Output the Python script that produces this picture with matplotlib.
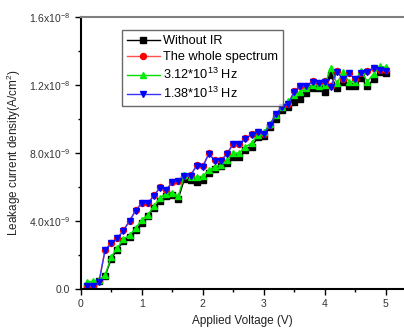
import numpy as np
import matplotlib
matplotlib.use("Agg")
import matplotlib.pyplot as plt
from matplotlib.ticker import FixedLocator, FixedFormatter, MultipleLocator

plt.rcParams["font.family"] = ["Liberation Sans", "DejaVu Sans"]
plt.rcParams["mathtext.default"] = "regular"

voltage = np.round(np.arange(1, 51) * 0.1, 1)

# leakage current density, in units of 1e-9 A/cm^2
without_ir = [0.17, 0.17, 0.45, 0.74, 1.75, 2.30, 2.80, 3.05, 3.45, 3.85,
              4.25, 4.75, 5.15, 5.45, 5.50, 5.30, 6.45, 6.40, 6.29, 6.39,
              6.82, 7.03, 7.20, 7.42, 7.77, 7.77, 8.16, 8.32, 8.91, 9.00,
              9.53, 9.97, 10.50, 10.68, 11.00, 11.20, 11.54, 11.80, 11.80, 11.60,
              12.58, 11.80, 12.20, 11.93, 11.93, 12.39, 11.93, 12.33, 12.78, 12.72]
whole_spectrum = [0.17, 0.17, 0.42, 2.29, 2.68, 2.98, 3.43, 4.00, 4.61, 5.04,
                  5.04, 5.49, 5.96, 5.82, 6.28, 6.35, 6.64, 6.67, 7.26, 7.20,
                  7.96, 7.55, 7.55, 7.97, 8.54, 8.54, 8.86, 9.08, 9.24, 9.10,
                  9.65, 10.30, 10.70, 10.90, 11.62, 11.95, 11.95, 12.21, 12.11, 12.21,
                  11.92, 12.80, 12.35, 12.70, 12.35, 12.70, 12.80, 13.00, 12.90, 12.86]
f_312 = [0.38, 0.44, 0.50, 0.80, 1.87, 2.40, 2.90, 3.15, 3.55, 4.05,
         4.35, 4.85, 5.35, 5.60, 5.65, 5.45, 6.70, 6.59, 6.55, 6.63,
         6.98, 7.18, 7.28, 7.57, 7.97, 8.00, 8.36, 8.56, 9.05, 9.20,
         9.70, 10.20, 10.70, 11.05, 11.40, 11.60, 11.80, 12.00, 11.95, 12.00,
         13.00, 12.10, 12.75, 12.20, 12.20, 12.80, 12.20, 12.65, 13.10, 13.05]
f_138 = [0.15, 0.15, 0.40, 2.27, 2.66, 2.96, 3.41, 3.98, 4.59, 5.02,
         5.02, 5.47, 5.94, 5.80, 6.26, 6.33, 6.62, 6.65, 7.24, 7.18,
         7.94, 7.53, 7.53, 7.95, 8.52, 8.52, 8.84, 9.06, 9.22, 9.08,
         9.63, 10.28, 10.68, 10.88, 11.60, 11.93, 11.93, 12.19, 12.09, 12.19,
         11.90, 12.78, 12.33, 12.68, 12.33, 12.68, 12.78, 12.98, 12.88, 12.84]

labels = ["Without IR", "The whole spectrum",
          "3.12*10$^{13}$ Hz", "1.38*10$^{13}$ Hz"]
y_ticks = [0, 4e-9, 8e-9, 1.2e-8, 1.6e-8]
y_tick_labels = ["0.0", "4.0x10$^{-9}$", "8.0x10$^{-9}$",
                 "1.2x10$^{-8}$", "1.6x10$^{-8}$"]


def main():
    fig = plt.figure(figsize=(4.04, 3.29), dpi=100)
    ax = fig.add_axes([0.1998, 0.123, 0.8002, 0.825])

    series = [
        (without_ir, "black", "s", "black", 4.3),
        (whole_spectrum, "#ff5050", "o", "red", 4.3),
        (f_312, "#00dd00", "^", "#00ee00", 4.8),
        (f_138, "#3333ff", "v", "#0000ff", 4.8),
    ]
    for vals, lc, mk, mc, ms in series:
        ax.plot(voltage, np.array(vals) * 1e-9, color=lc, lw=1.0,
                marker=mk, markersize=ms, markerfacecolor=mc,
                markeredgecolor=mc)

    ax.set_xlim(0, 5.3)
    ax.set_ylim(0, 1.6e-8)
    ax.xaxis.set_major_locator(MultipleLocator(1))
    ax.xaxis.set_minor_locator(MultipleLocator(0.5))
    ax.yaxis.set_major_locator(FixedLocator(y_ticks))
    ax.yaxis.set_major_formatter(FixedFormatter(y_tick_labels))
    ax.yaxis.set_minor_locator(MultipleLocator(2e-9))
    ax.tick_params(which="both", direction="out", labelsize=7.5, width=1.0,
                   colors="black", labelcolor="#333333")
    ax.tick_params(which="major", length=4)
    ax.tick_params(which="minor", length=2.5)

    ax.spines["left"].set_linewidth(1.5)
    ax.spines["bottom"].set_linewidth(1.5)
    ax.spines["top"].set_linewidth(1.5)
    ax.spines["top"].set_color("#808080")
    ax.spines["right"].set_visible(False)

    ax.set_xlabel("Applied Voltage (V)", fontsize=8.5, color="#222222",
                  labelpad=4)
    ax.set_ylabel("Leakage current density(A/cm$^2$)", fontsize=8.5,
                  color="#222222", labelpad=4)

    leg = ax.legend(labels, loc="upper left", bbox_to_anchor=(0.127, 0.952),
                    fontsize=9.2, frameon=True, fancybox=False,
                    borderpad=0.4, labelspacing=0.3, handlelength=2.6,
                    handletextpad=0.2, borderaxespad=0)
    leg.get_frame().set_edgecolor("#444444")
    leg.get_frame().set_linewidth(1.0)

    fig.savefig("out.png", dpi=100)


if __name__ == "__main__":
    main()
